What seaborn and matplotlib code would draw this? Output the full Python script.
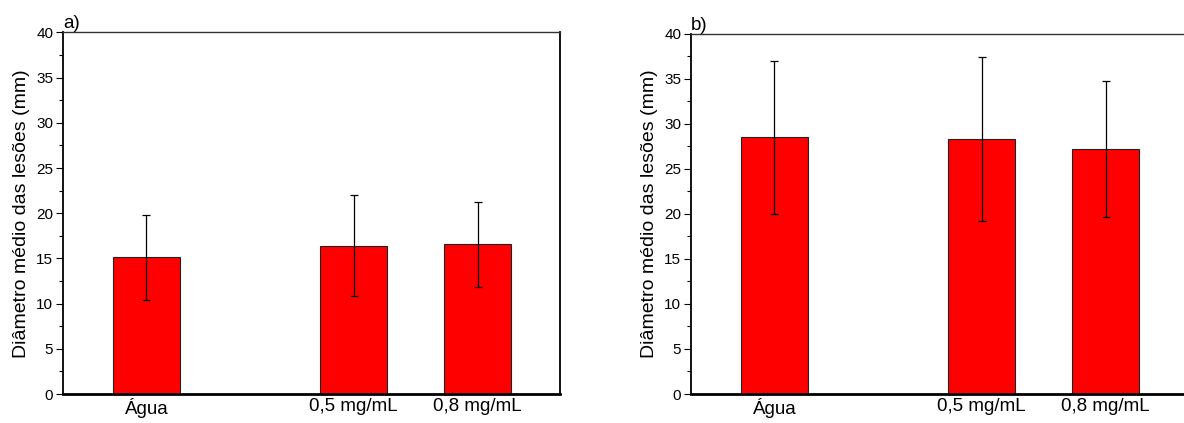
import matplotlib
matplotlib.use("Agg")
import matplotlib.pyplot as plt
import seaborn as sns
import pandas as pd
from matplotlib.ticker import MultipleLocator

categories = ["Água", "0,5 mg/mL", "0,8 mg/mL"]
means_a = [15.15, 16.4, 16.55]
errs_a = [4.7, 5.6, 4.7]
means_b = [28.5, 28.3, 27.2]
errs_b = [8.5, 9.1, 7.55]
panel_labels = ["a)", "b)"]
ylabel = "Diâmetro médio das lesões (mm)"

positions = [1.0, 2.67, 3.67]

sns.set_theme(style="white")
plt.rcParams["font.family"] = ["Liberation Sans", "DejaVu Sans"]
plt.rcParams["text.color"] = "black"
plt.rcParams["axes.labelcolor"] = "black"
plt.rcParams["xtick.color"] = "black"
plt.rcParams["ytick.color"] = "black"

fig = plt.figure(figsize=(11.84, 4.23), dpi=100)
ax_a = fig.add_axes([63/1184, 29/423, 497/1184, 361.5/423])
ax_b = fig.add_axes([691/1184, 29/423, 497/1184, 360.3/423])

for ax, means, errs, lab in [(ax_a, means_a, errs_a, panel_labels[0]),
                             (ax_b, means_b, errs_b, panel_labels[1])]:
    df = pd.DataFrame({"pos": positions, "val": means})
    sns.barplot(data=df, x="pos", y="val", native_scale=True, width=0.54,
                color="#ff0000", saturation=1, edgecolor="#222222", linewidth=0.8,
                errorbar=None, ax=ax)
    ax.errorbar(positions, means, yerr=errs, fmt="none", ecolor="black",
                elinewidth=0.9, capsize=2.7, capthick=0.9)
    ax.set_xlim(0.327, 4.335)
    ax.set_ylim(0, 40)
    ax.set_xticks(positions)
    ax.set_xticklabels(categories, fontsize=13.5)
    ax.set_xlabel("")
    ax.set_ylabel(ylabel, fontsize=14)
    ax.yaxis.set_label_coords(-0.066, 0.5)
    ax.yaxis.set_major_locator(MultipleLocator(5))
    ax.yaxis.set_minor_locator(MultipleLocator(2.5))
    ax.tick_params(axis="y", which="major", direction="out", length=5, width=0.8,
                   labelsize=11, left=True, pad=2, color="black")
    ax.tick_params(axis="y", which="minor", direction="out", length=3, width=0.8,
                   left=True, color="black")
    ax.tick_params(axis="x", which="both", length=0, pad=3)
    for s in ["left", "right"]:
        ax.spines[s].set_linewidth(1.3)
        ax.spines[s].set_color("black")
    ax.spines["bottom"].set_linewidth(2.0)
    ax.spines["bottom"].set_color("black")
    ax.spines["top"].set_linewidth(1.0)
    ax.spines["top"].set_color("#333333")
    ax.text(0.0, 1.0, lab, transform=ax.transAxes, fontsize=13.5,
            ha="left", va="bottom")

fig.savefig("out.png", dpi=100)
